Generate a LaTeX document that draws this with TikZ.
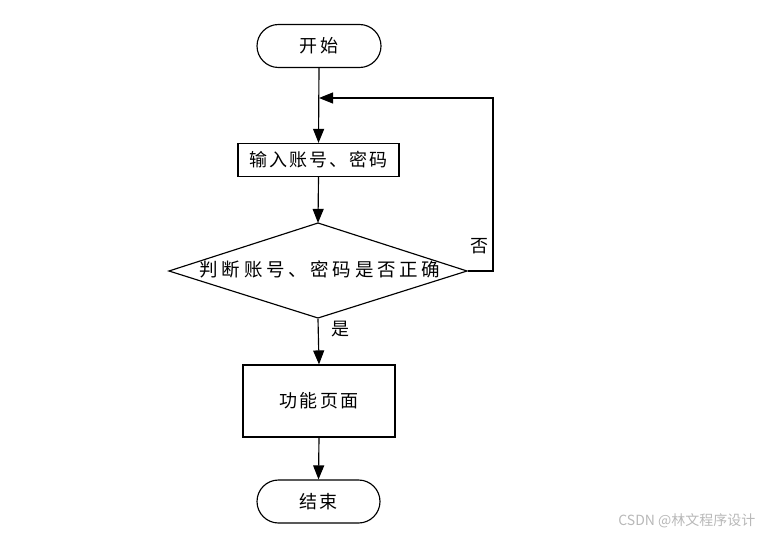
\documentclass[tikz,border=0pt]{standalone}
\usepackage{fontspec}
\setmainfont{Noto Sans CJK SC}[LetterSpace=12]
\newfontfamily\decfont{Noto Sans CJK SC}[LetterSpace=20]
\newfontfamily\wmfont{Noto Sans CJK SC}
\usetikzlibrary{arrows.meta,shapes.geometric}
\begin{document}
\begin{tikzpicture}[x=1pt,y=-1pt,
  every node/.style={font=\fontsize{18}{20}\selectfont, inner sep=0pt},
  term/.style={draw, rounded corners=21.5pt, minimum width=124pt, minimum height=43pt},
  procbox/.style={draw, rectangle},
  arr/.style={-{Triangle[length=14pt,width=11pt]}},
  line width=1.15pt]
\useasboundingbox (0,0) rectangle (763,535);
\node[term] (start) at (319,46) {开始};
\coordinate (merge) at (319,98);
\node[procbox, minimum width=161pt, minimum height=33pt] (input) at (318.5,160) {输入账号、密码};
\draw (318,223) -- (467,271) -- (318,318) -- (169,271) -- cycle;
\node[minimum width=298pt, minimum height=95pt] (dec) at (318,271) {};
\node[font=\decfont\fontsize{18.5}{20}\selectfont] (dectext) at (320,269) {判断账号、密码是否正确};
\node[procbox, minimum width=152pt, minimum height=72pt] (func) at (319,401) {功能页面};
\node[term, minimum width=123pt] (end) at (318.5,501.5) {结束};
\coordinate (fbr) at (493,271);
\coordinate (fbt) at (493,98);
\draw[arr] (start.south) -- (input.north);
\draw[arr] (input.south) -- (dec.north);
\draw[arr] (dec.south) -- (func.north);
\draw[arr] (func.south) -- (end.north);
\draw[arr] (dec.east) -- (fbr) -- (fbt) -- (merge);
\node (no) at (479,246) {否};
\node (yes) at (340,329) {是};
\node[font=\wmfont\fontsize{14}{15}\selectfont, text=black!28, anchor=east] (wm) at (756,521) {CSDN @林文程序设计};
\end{tikzpicture}
\end{document}
